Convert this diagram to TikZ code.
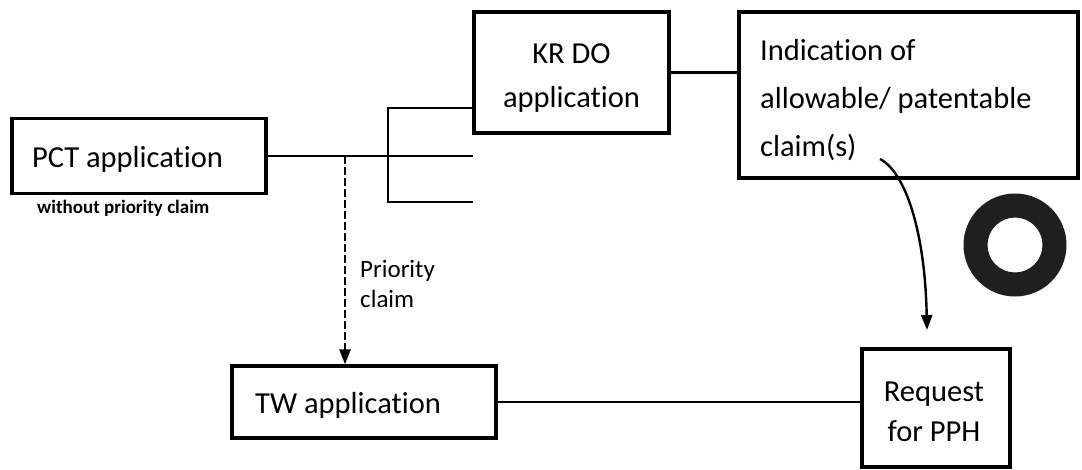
\documentclass[tikz,border=0pt]{standalone}
\usepackage{fontspec}
\setmainfont{Carlito}[Ligatures=NoCommon]
\usetikzlibrary{arrows.meta}
\begin{document}
\begin{tikzpicture}[x=1pt,y=-1pt,
  box/.style={draw, line width=3.3pt, inner sep=0pt},
  lbl/.style={anchor=base west, inner sep=0pt, font=\fontsize{30.5}{36}\selectfont},
  clbl/.style={anchor=base, inner sep=0pt, font=\fontsize{30.5}{36}\selectfont},
  small/.style={anchor=base west, inner sep=0pt, font=\fontsize{25}{30}\selectfont},
  conn/.style={line width=2.4pt},
  tipend/.style={-{Triangle[length=15pt,width=11pt]}}]
\useasboundingbox (0,0) rectangle (1082,469);
% boxes
\node[box, minimum width=254pt, minimum height=75pt] (pct) at (139,156) {};
\node[box, minimum width=195pt, minimum height=121pt] (kr) at (571.5,72.5) {};
\node[box, minimum width=339pt, minimum height=166pt] (ind) at (908.5,95) {};
\node[box, minimum width=264pt, minimum height=72pt] (tw) at (364,402) {};
\node[box, minimum width=148pt, minimum height=118pt] (req) at (936,408) {};
% texts
\node[lbl] (pcttext) at (32,167) {PCT application};
\node[anchor=base west, inner sep=0pt, font=\bfseries\fontsize{19}{22}\selectfont] (note) at (37,213) {without priority claim};
\node[clbl] (krt1) at (571.5,63) {KR DO};
\node[clbl] (krt2) at (571.5,107) {application};
\node[lbl] (indt1) at (760,60) {Indication of};
\node[lbl] (indt2) at (760,108) {allowable/ patentable};
\node[lbl] (indt3) at (760,156) {claim(s)};
\node[lbl] (twtext) at (255,413) {TW application};
\node[clbl] (reqt1) at (934,401) {Request};
\node[clbl] (reqt2) at (934,441) {for PPH};
\node[small] (prio1) at (360,277) {Priority};
\node[small] (prio2) at (360,307) {claim};
% coordinates
\coordinate (split) at (388,156);
\coordinate (dashsrc) at (345,156);
\coordinate (brtop) at (388,108);
\coordinate (brbot) at (388,202);
\coordinate (midend) at (473,156);
\coordinate (botend) at (473,202);
\coordinate (cstart) at (880,159);
\coordinate (ctip) at (927,330);
% connectors
\draw[conn] (pct.east) -- (split) -- (midend);
\draw[conn] (kr.west |- brtop) -- (brtop) -- (brbot) -- (botend);
\draw[conn] (kr.east) -- (kr.east -| ind.west);
\draw[line width=2.5pt, dash pattern=on 8pt off 3pt, tipend] (dashsrc) -- (dashsrc |- tw.north);
\draw[conn] (tw.east) -- (tw.east -| req.west);
\draw[conn, tipend] (cstart) .. controls (905,172) and (925,230) .. (ctip);
% ring
\fill[black!88, even odd rule] (1015,245) circle[radius=51.5] (1015,245) circle[radius=27.5];
\end{tikzpicture}
\end{document}
